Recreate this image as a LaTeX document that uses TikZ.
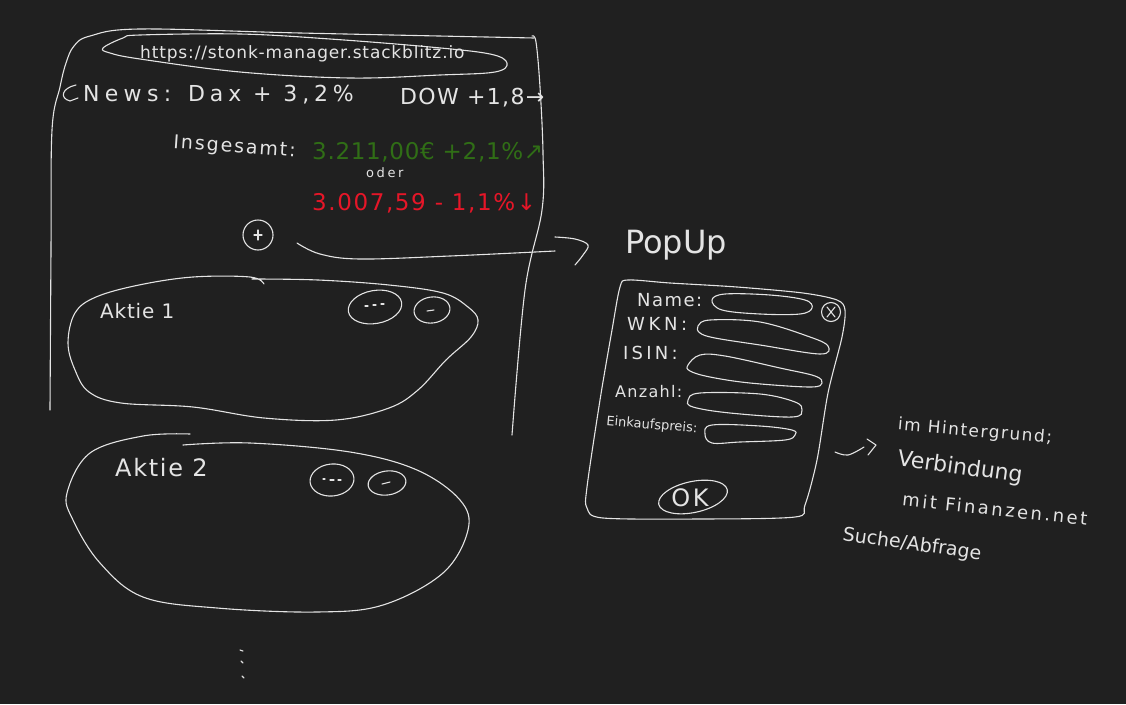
\documentclass[tikz,border=0pt]{standalone}
\usepackage{fontspec}
\setmainfont{DejaVu Sans}
\usetikzlibrary{shapes.geometric,calc}
\newcommand\lsp[1]{\addfontfeatures{LetterSpace=#1}}
\newcommand\fsz[1]{\fontsize{#1}{#1}\selectfont}
\definecolor{bgc}{RGB}{32,32,32}
\definecolor{ink}{RGB}{228,228,228}
\definecolor{grn}{RGB}{48,110,22}
\definecolor{rdc}{RGB}{230,22,40}
\begin{document}
\begin{tikzpicture}[x=1pt,y=-1pt,
  ln/.style={draw=ink, line width=1.1pt, line cap=round, line join=round},
  lbl/.style={text=ink, inner sep=0pt, anchor=base west},
  oval/.style={ln, ellipse, inner sep=0pt}]
\fill[bgc] (0,0) rectangle (1126,704);
\useasboundingbox (0,0) rectangle (1126,704);

% ---------- browser frame ----------
\draw[ln] plot[smooth, tension=0.6] coordinates {(50,410) (51,250) (52,130) (60,87) (66,63) (74,46) (90,36) (140,29) (300,33) (534,38)};
\draw[ln] plot[smooth, tension=0.6] coordinates {(532,36) (536,42) (540,87) (543,153) (542,210) (525,290) (512,435)};

% URL field
\draw[ln] plot[smooth cycle, tension=0.6] coordinates {(103,48) (123,38) (140,35) (240,34) (330,39) (430,47) (490,54) (507,63) (495,72) (440,75) (350,78) (240,72) (140,59) (110,53)};
\node[lbl] (url) at (140,58) {\fsz{17}\lsp{5}https://stonk-manager.stackblitz.io};

% news line
\draw[ln] (76,85) .. controls (62,88) and (59,98) .. (70,101) -- (78,98);
\node[lbl] (news) at (83,101) {\fsz{22}\lsp{24}News:};
\node[lbl] (dax) at (188,101) {\fsz{22}\lsp{22}Dax + 3,2\%};
\node[lbl] (dow) at (400,104) {\fsz{22}\lsp{6}DOW +1,8→};

% totals
\node[lbl, rotate=-4] (insg) at (173,148) {\fsz{19}\lsp{10}Insgesamt:};
\node[lbl, text=grn] (tot) at (312,159) {\fsz{23}\lsp{3}3.211,00€ +2,1\%↗};
\node[lbl] (oder) at (366,177) {\fsz{13}\lsp{20}oder};
\node[lbl, text=rdc] (neg) at (312,210) {\fsz{23}\lsp{7}3.007,59 - 1,1\%↓};

% plus button and arrow to popup
\node[ln, circle, minimum size=30pt, inner sep=0pt] (plus) at (258,235) {};
\draw[ln] ($(plus)+(-4,0)$) -- ($(plus)+(4,0)$) ($(plus)+(0,-5)$) -- ($(plus)+(0,5)$);
\coordinate (arrS) at (297,243);
\coordinate (arrE) at (555,251);
\draw[ln] plot[smooth, tension=0.6] coordinates {(arrS) (320,254) (360,259) (450,256) (arrE)};
\draw[ln] plot[smooth, tension=0.6] coordinates {(555,237) (575,239) (588,245) (583,255) (575,265)};
\node[lbl] (popup) at (625,253) {\fsz{32}PopUp};

% ---------- Aktie 1 ----------
\draw[ln] plot[smooth, tension=0.6] coordinates {(264,284) (250,277) (193,277) (139,285) (96,297) (75,313) (68,343) (75,370) (89,392) (121,403) (193,407) (264,418) (336,420) (389,408) (418,390) (446,360) (471,337) (478,320) (468,307) (443,293) (389,285) (318,280) (252,279)};
\node[lbl] (akt1) at (100,318) {\fsz{20}\lsp{4}Aktie 1};
\node[oval, minimum width=54pt, minimum height=33pt, rotate=10] (more1) at (375,307) {};
\draw[ln] ($(more1)+(-10,-1)$) -- ($(more1)+(-7,-1)$) ($(more1)+(-2,-2)$) -- ($(more1)+(1,-2)$) ($(more1)+(6,-3)$) -- ($(more1)+(9,-3)$);
\node[oval, minimum width=36pt, minimum height=26pt, rotate=8] (del1) at (432,310) {};
\draw[ln] ($(del1)+(-5,1)$) -- ($(del1)+(2,0)$);

% ---------- Aktie 2 ----------
\draw[ln] plot[smooth, tension=0.6] coordinates {(190,434) (143,436) (90,453) (67,493) (73,520) (100,563) (143,597) (217,608) (317,612) (383,605) (443,573) (468,530) (460,500) (417,470) (350,452) (250,443) (183,445)};
\node[lbl] (akt2) at (115,476) {\fsz{24}\lsp{7}Aktie 2};
\node[oval, minimum width=44pt, minimum height=32pt, rotate=6] (more2) at (332,480) {};
\draw[ln] ($(more2)+(-9,-1)$) -- ($(more2)+(-7,-1)$) ($(more2)+(-2,0)$) -- ($(more2)+(2,0)$) ($(more2)+(6,0)$) -- ($(more2)+(9,0)$);
\node[oval, minimum width=38pt, minimum height=24pt, rotate=8] (del2) at (387,483) {};
\draw[ln] ($(del2)+(-5,1)$) -- ($(del2)+(3,-1)$);

% continuation dots
\coordinate (d1) at (240,650);
\coordinate (d2) at (241,661);
\coordinate (d3) at (242,676);
\draw[ln] (d1) -- ++(3,1) (d2) -- ++(2,2) (d3) -- ++(2,2);

% ---------- popup ----------
\draw[ln] plot[smooth cycle, tension=0.5] coordinates {(628,280) (670,283) (737,287) (803,293) (837,300) (845,310) (842,337) (828,393) (817,460) (805,505) (795,517) (700,519) (603,518) (587,508) (587,487) (600,400) (612,330) (620,287)};

\node[lbl] (lname) at (637,306) {\fsz{18}\lsp{8}Name:};
\draw[ln] plot[smooth cycle, tension=0.6] coordinates {(712,300) (725,294) (770,295) (805,300) (812,308) (800,314) (760,314) (722,310)};
\node[ln, circle, minimum size=19pt, inner sep=0pt] (close) at (831,312) {};
\draw[ln] ($(close)+(-4,-5)$) -- ($(close)+(4,5)$) ($(close)+(4,-5)$) -- ($(close)+(-4,5)$);

\node[lbl] (lwkn) at (627,330) {\fsz{18}\lsp{20}WKN:};
\draw[ln] plot[smooth cycle, tension=0.6] coordinates {(698,326) (710,320) (760,322) (810,337) (828,346) (820,354) (760,345) (715,338) (700,333)};

\node[lbl] (lisin) at (623,359) {\fsz{18}\lsp{18}ISIN:};
\draw[ln] plot[smooth cycle, tension=0.6] coordinates {(688,365) (700,355) (725,356) (780,368) (815,376) (822,383) (810,387) (750,383) (710,377) (690,371)};

\node[lbl] (lanz) at (615,397) {\fsz{16}\lsp{8}Anzahl:};
\draw[ln] plot[smooth cycle, tension=0.6] coordinates {(688,400) (700,393) (760,394) (795,402) (802,410) (792,417) (730,413) (693,407)};

\node[lbl, rotate=-5] (lein) at (606,425) {\fsz{13}Einkaufspreis:};
\draw[ln] plot[smooth cycle, tension=0.6] coordinates {(705,434) (712,425) (760,426) (792,430) (795,435) (785,440) (740,442) (712,443)};

\node[oval, minimum width=70pt, minimum height=31pt, rotate=12] (ok) at (693,497) {};
\node[text=ink, inner sep=0pt] (oktxt) at (690,498) {\fsz{24}\lsp{12}OK};

% ---------- background note ----------
\coordinate (nS) at (835,452);
\draw[ln] plot[smooth, tension=0.6] coordinates {(nS) (848,455) (864,447)};
\draw[ln] (867,439) -- (876,445) -- (868,455);
\node[text=ink, inner sep=0pt, rotate=-5] (n1) at (975,432) {\fsz{17}\lsp{9}im Hintergrund;};
\node[text=ink, inner sep=0pt, rotate=-8] (n2) at (960,468) {\fsz{22}Verbindung};
\node[text=ink, inner sep=0pt, rotate=-6] (n3) at (995,509) {\fsz{18}\lsp{14}mit Finanzen.net};
\node[text=ink, inner sep=0pt, rotate=-8] (n4) at (912,545) {\fsz{19}Suche/Abfrage};
\end{tikzpicture}
\end{document}
